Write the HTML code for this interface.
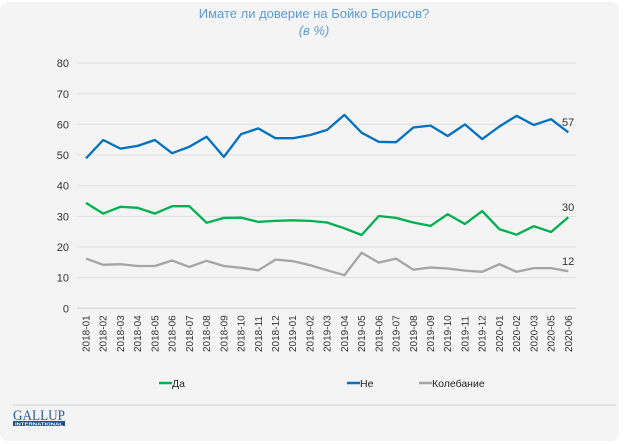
<!DOCTYPE html>
<html><head><meta charset="utf-8"><style>
html,body{margin:0;padding:0;background:#fff;}
svg{display:block;font-family:"Liberation Sans",sans-serif;}
</style></head><body>
<svg id="s" width="629" height="444" xmlns="http://www.w3.org/2000/svg">
<rect x="0" y="2" width="619" height="439" rx="8" fill="#f4f4f4"/>
<text x="314" y="18" text-anchor="middle" font-size="13" fill="#5b9bd5">Имате ли доверие на Бойко Борисов?</text>
<text x="314" y="35" text-anchor="middle" font-size="13" font-style="italic" fill="#5b9bd5">(в %)</text>
<g id="grid" stroke="#dcdcdc" stroke-width="1"></g>
<g id="ylab" font-size="11" fill="#333" text-anchor="end"></g>
<g id="xlab" font-size="10" fill="#333"></g>
<g id="lines" fill="none" stroke-width="2.3" stroke-linejoin="round"></g>
<text x="562" y="126" font-size="11" fill="#333">57</text>
<text x="562" y="211" font-size="11" fill="#333">30</text>
<text x="562" y="265" font-size="11" fill="#333">12</text>
<line x1="159" y1="383" x2="172" y2="383" stroke="#00b050" stroke-width="2.5"/>
<text x="172" y="387" font-size="10.5" fill="#222">Да</text>
<line x1="347" y1="383" x2="360" y2="383" stroke="#0070c0" stroke-width="2.5"/>
<text x="360" y="387" font-size="10.5" fill="#222">Не</text>
<line x1="419" y1="383" x2="432" y2="383" stroke="#a5a5a5" stroke-width="2.5"/>
<text x="432" y="387" font-size="10.5" fill="#222">Колебание</text>
<line x1="13" y1="405" x2="616" y2="405" stroke="#d0d0d0" stroke-width="1"/>
<text x="13" y="420" font-family="Liberation Serif,serif" font-size="15" fill="#1f5a9e" textLength="52" lengthAdjust="spacingAndGlyphs">GALLUP</text>
<rect x="13" y="421" width="52" height="5" fill="#1f4e8c"/>
<text x="15" y="425.5" font-size="4.5" fill="#fff" font-weight="bold" textLength="48" lengthAdjust="spacingAndGlyphs">INTERNATIONAL</text>
</svg>
<script>
var ns="http://www.w3.org/2000/svg";
function el(p,t,a,txt){var e=document.createElementNS(ns,t);for(var k in a)e.setAttribute(k,a[k]);if(txt!=null)e.textContent=txt;document.getElementById(p).appendChild(e);}
function Y(v){return 308.3-v*3.065;}
for(var v=0;v<=80;v+=10){el("grid","line",{x1:77,x2:576,y1:Y(v),y2:Y(v),stroke:v==0?"#cfcfcf":"#e0e0e0"});el("ylab","text",{x:69,y:Y(v)+4},String(v));}
var labs=[];for(var m=1;m<=12;m++)labs.push("2018-"+(m<10?"0":"")+m);for(m=1;m<=12;m++)labs.push("2019-"+(m<10?"0":"")+m);labs.push("2020-01","2020-02","2020-03","2020-05","2020-06");
var dx=(568.3-86)/28;function X(i){return 86+i*dx;}
labs.forEach(function(l,i){var x=X(i)+3.5;el("xlab","text",{x:0,y:0,transform:"translate("+x+",352) rotate(-90)"},l);});
var blue=[48.9,54.9,52.1,53,54.9,50.6,52.7,56,49.4,56.8,58.7,55.5,55.5,56.5,58.2,63.1,57.3,54.3,54.2,59,59.6,56.2,60,55.2,59.3,62.8,59.8,61.7,57.4];
var green=[34.4,30.9,33.1,32.8,30.9,33.3,33.3,27.9,29.5,29.6,28.2,28.5,28.7,28.5,28.0,26.1,23.9,30.1,29.5,28,26.9,30.7,27.5,31.7,25.8,24,26.8,24.9,29.7];
var gray=[16.2,14.2,14.4,13.8,13.8,15.6,13.5,15.5,13.8,13.2,12.4,15.9,15.4,14.1,12.4,10.8,18.1,14.9,16.2,12.6,13.3,13,12.3,11.9,14.4,11.9,13.1,13.1,12.1];
function pl(d,c){el("lines","polyline",{stroke:c,points:d.map(function(v,i){return X(i).toFixed(1)+","+Y(v).toFixed(1);}).join(" ")});}
pl(gray,"#a5a5a5");pl(green,"#00b050");pl(blue,"#0070c0");
</script>
</body></html>
